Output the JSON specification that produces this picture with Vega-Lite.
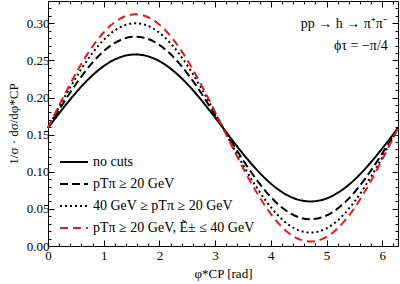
{
  "$schema": "https://vega.github.io/schema/vega-lite/v6.json",
  "autosize": {"type": "none"},
  "width": 350,
  "height": 245,
  "padding": {"left": 48, "top": 1, "right": 2, "bottom": 38},
  "config": {
    "view": {"stroke": "black", "strokeWidth": 1},
    "font": "Liberation Serif, serif",
    "axis": {
      "domain": false,
      "grid": false,
      "tickColor": "black",
      "tickWidth": 1,
      "labelFont": "Liberation Serif, serif",
      "labelFontSize": 13,
      "labelColor": "black",
      "titleFont": "Liberation Serif, serif",
      "titleFontSize": 13,
      "titleFontWeight": "normal",
      "titleColor": "black",
      "labelOverlap": false,
      "labelFlush": false
    },
    "legend": {
      "labelFont": "Liberation Serif, serif",
      "labelFontSize": 14,
      "labelColor": "black",
      "labelLimit": 0
    }
  },
  "datasets": {
    "curves": [
      {"x": 0.0, "a": 0.159, "b": 0.159, "c": 0.159, "d": 0.159},
      {"x": 0.196, "a": 0.1783, "b": 0.183, "c": 0.1865, "d": 0.1889},
      {"x": 0.393, "a": 0.1969, "b": 0.2061, "c": 0.213, "d": 0.2176},
      {"x": 0.589, "a": 0.214, "b": 0.2273, "c": 0.2373, "d": 0.244},
      {"x": 0.785, "a": 0.229, "b": 0.246, "c": 0.2587, "d": 0.2672},
      {"x": 0.982, "a": 0.2413, "b": 0.2613, "c": 0.2762, "d": 0.2862},
      {"x": 1.178, "a": 0.2505, "b": 0.2726, "c": 0.2893, "d": 0.3004},
      {"x": 1.374, "a": 0.2561, "b": 0.2796, "c": 0.2973, "d": 0.3091},
      {"x": 1.571, "a": 0.258, "b": 0.282, "c": 0.3, "d": 0.312},
      {"x": 1.767, "a": 0.2561, "b": 0.2796, "c": 0.2973, "d": 0.3091},
      {"x": 1.963, "a": 0.2505, "b": 0.2726, "c": 0.2893, "d": 0.3004},
      {"x": 2.16, "a": 0.2413, "b": 0.2613, "c": 0.2762, "d": 0.2862},
      {"x": 2.356, "a": 0.229, "b": 0.246, "c": 0.2587, "d": 0.2672},
      {"x": 2.553, "a": 0.214, "b": 0.2273, "c": 0.2373, "d": 0.244},
      {"x": 2.749, "a": 0.1969, "b": 0.2061, "c": 0.213, "d": 0.2176},
      {"x": 2.945, "a": 0.1783, "b": 0.183, "c": 0.1865, "d": 0.1889},
      {"x": 3.142, "a": 0.159, "b": 0.159, "c": 0.159, "d": 0.159},
      {"x": 3.338, "a": 0.1397, "b": 0.135, "c": 0.1315, "d": 0.1291},
      {"x": 3.534, "a": 0.1211, "b": 0.1119, "c": 0.105, "d": 0.1004},
      {"x": 3.731, "a": 0.104, "b": 0.0907, "c": 0.0807, "d": 0.074},
      {"x": 3.927, "a": 0.089, "b": 0.072, "c": 0.0593, "d": 0.0508},
      {"x": 4.123, "a": 0.0767, "b": 0.0567, "c": 0.0418, "d": 0.0318},
      {"x": 4.32, "a": 0.0675, "b": 0.0454, "c": 0.0287, "d": 0.0176},
      {"x": 4.516, "a": 0.0619, "b": 0.0384, "c": 0.0207, "d": 0.0089},
      {"x": 4.712, "a": 0.06, "b": 0.036, "c": 0.018, "d": 0.006},
      {"x": 4.909, "a": 0.0619, "b": 0.0384, "c": 0.0207, "d": 0.0089},
      {"x": 5.105, "a": 0.0675, "b": 0.0454, "c": 0.0287, "d": 0.0176},
      {"x": 5.301, "a": 0.0767, "b": 0.0567, "c": 0.0418, "d": 0.0318},
      {"x": 5.498, "a": 0.089, "b": 0.072, "c": 0.0593, "d": 0.0508},
      {"x": 5.694, "a": 0.104, "b": 0.0907, "c": 0.0807, "d": 0.074},
      {"x": 5.89, "a": 0.1211, "b": 0.1119, "c": 0.105, "d": 0.1004},
      {"x": 6.087, "a": 0.1397, "b": 0.135, "c": 0.1315, "d": 0.1291},
      {"x": 6.283, "a": 0.159, "b": 0.159, "c": 0.159, "d": 0.159}
    ],
    "notes": [
      {"x": 6.1, "y": 0.299, "label": "pp → h → π⁺π⁻"},
      {"x": 6.1, "y": 0.27, "label": "ϕτ = −π/4"}
    ]
  },
  "resolve": {"axis": {"x": "independent", "y": "independent"}},
  "layer": [
    {
      "mark": {"type": "rule", "color": "#333333", "strokeWidth": 1},
      "encoding": {
        "y": {"datum": 0.159, "type": "quantitative", "axis": null,
              "scale": {"domain": [0, 0.33], "nice": false, "zero": false}}
      }
    },
    {
      "data": {"name": "curves"},
      "transform": [{"fold": ["a", "b", "c", "d"], "as": ["series", "y"]}],
      "mark": {"type": "line", "strokeWidth": 2, "interpolate": "monotone"},
      "encoding": {
        "x": {
          "field": "x", "type": "quantitative",
          "scale": {"domain": [0, 6.2832], "nice": false, "zero": false},
          "title": "φ*CP [rad]",
          "axis": {
            "orient": "bottom",
            "values": [0, 0.2, 0.4, 0.6, 0.8, 1, 1.2, 1.4, 1.6, 1.8, 2, 2.2, 2.4, 2.6, 2.8, 3, 3.2, 3.4, 3.6, 3.8, 4, 4.2, 4.4, 4.6, 4.8, 5, 5.2, 5.4, 5.6, 5.8, 6, 6.2],
            "labelExpr": "abs(datum.value-round(datum.value))<0.001 ? format(datum.value,'.0f') : ''",
            "tickSize": {"condition": {"test": "abs(datum.value-round(datum.value))<0.001", "value": -6}, "value": -3},
            "labelPadding": 9,
            "titlePadding": 2
          }
        },
        "y": {
          "field": "y", "type": "quantitative",
          "scale": {"domain": [0, 0.33], "nice": false, "zero": false},
          "title": "1/σ · dσ/dφ*CP",
          "axis": {
            "orient": "left",
            "values": [0, 0.01, 0.02, 0.03, 0.04, 0.05, 0.06, 0.07, 0.08, 0.09, 0.1, 0.11, 0.12, 0.13, 0.14, 0.15, 0.16, 0.17, 0.18, 0.19, 0.2, 0.21, 0.22, 0.23, 0.24, 0.25, 0.26, 0.27, 0.28, 0.29, 0.3, 0.31, 0.32],
            "labelExpr": "abs(datum.value*20-round(datum.value*20))<0.001 ? format(datum.value,'.2f') : ''",
            "tickSize": {"condition": {"test": "abs(datum.value*20-round(datum.value*20))<0.001", "value": -6}, "value": -3},
            "labelPadding": 5,
            "titlePadding": 6
          }
        },
        "color": {
          "field": "series", "type": "nominal",
          "scale": {"domain": ["a", "b", "c", "d"], "range": ["black", "black", "black", "#dd1c1c"]},
          "legend": {
            "orient": "bottom-left",
            "offset": 11,
            "padding": 0,
            "title": null,
            "symbolType": "stroke",
            "symbolSize": 784,
            "symbolStrokeWidth": 2,
            "labelOffset": 4,
            "labelLimit": 0,
            "rowPadding": -2.5,
            "labelExpr": "datum.label=='a' ? 'no cuts' : datum.label=='b' ? 'pTπ ≥ 20 GeV' : datum.label=='c' ? '40 GeV ≥ pTπ ≥ 20 GeV' : 'pTπ ≥ 20 GeV, Ẽ± ≤ 40 GeV'"
          }
        },
        "strokeDash": {
          "field": "series", "type": "nominal",
          "scale": {"domain": ["a", "b", "c", "d"], "range": [[1, 0], [8, 4], [2, 3], [8, 5]]},
          "legend": {
            "orient": "bottom-left",
            "offset": 11,
            "padding": 0,
            "title": null,
            "symbolType": "stroke",
            "symbolSize": 784,
            "symbolStrokeWidth": 2,
            "labelOffset": 4,
            "labelLimit": 0,
            "rowPadding": -2.5,
            "labelExpr": "datum.label=='a' ? 'no cuts' : datum.label=='b' ? 'pTπ ≥ 20 GeV' : datum.label=='c' ? '40 GeV ≥ pTπ ≥ 20 GeV' : 'pTπ ≥ 20 GeV, Ẽ± ≤ 40 GeV'"
          }
        }
      }
    },
    {
      "data": {"name": "notes"},
      "mark": {"type": "text", "align": "right", "baseline": "middle", "fontSize": 14, "font": "Liberation Serif, serif", "color": "black"},
      "encoding": {
        "x": {
          "field": "x", "type": "quantitative",
          "axis": {
            "orient": "top", "title": null, "labels": false,
            "values": [0, 0.2, 0.4, 0.6, 0.8, 1, 1.2, 1.4, 1.6, 1.8, 2, 2.2, 2.4, 2.6, 2.8, 3, 3.2, 3.4, 3.6, 3.8, 4, 4.2, 4.4, 4.6, 4.8, 5, 5.2, 5.4, 5.6, 5.8, 6, 6.2],
            "tickSize": {"condition": {"test": "abs(datum.value-round(datum.value))<0.001", "value": -6}, "value": -3}
          }
        },
        "y": {
          "field": "y", "type": "quantitative",
          "axis": {
            "orient": "right", "title": null, "labels": false,
            "values": [0, 0.01, 0.02, 0.03, 0.04, 0.05, 0.06, 0.07, 0.08, 0.09, 0.1, 0.11, 0.12, 0.13, 0.14, 0.15, 0.16, 0.17, 0.18, 0.19, 0.2, 0.21, 0.22, 0.23, 0.24, 0.25, 0.26, 0.27, 0.28, 0.29, 0.3, 0.31, 0.32],
            "tickSize": {"condition": {"test": "abs(datum.value*20-round(datum.value*20))<0.001", "value": -6}, "value": -3}
          }
        },
        "text": {"field": "label"}
      }
    }
  ]
}
